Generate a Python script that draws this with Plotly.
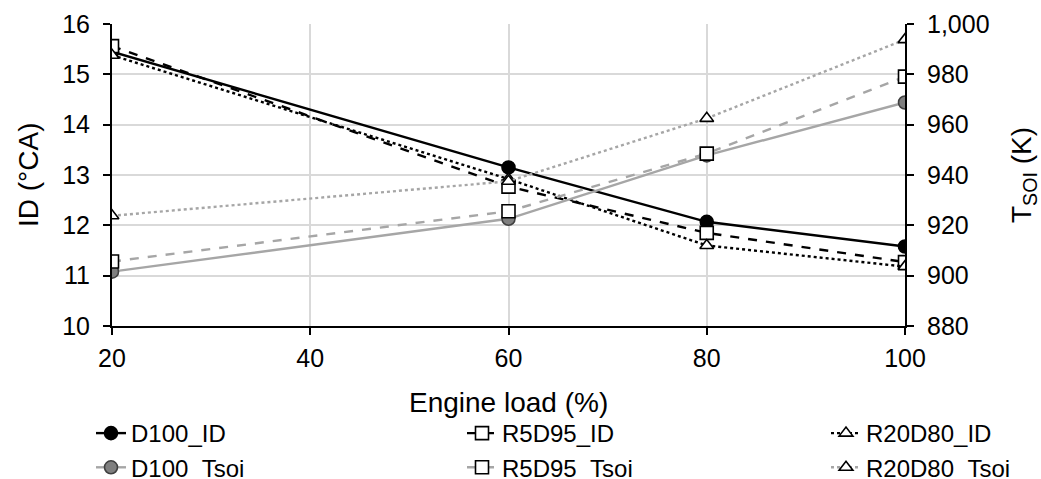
import plotly.graph_objects as go

load = [20, 60, 80, 100]
load_ticks = [20, 40, 60, 80, 100]

d100_id = [15.45, 13.15, 12.07, 11.58]
r5d95_id = [15.56, 12.77, 11.85, 11.27]
r20d80_id = [15.38, 12.92, 11.60, 11.18]

d100_tsoi = [901.6, 922.6, 947.8, 968.8]
r5d95_tsoi = [905.6, 925.6, 948.5, 979.1]
r20d80_tsoi = [923.8, 937.5, 962.5, 993.8]

BLACK = "#000000"
GRAY = "#a6a6a6"
FONT = "Liberation Sans, Arial, sans-serif"

fig = go.Figure()

def add(name, y, color, dash, symbol, mfill, mline, msize, axis, legend):
    fig.add_trace(go.Scatter(
        x=load, y=y, name=name, mode="lines+markers", yaxis=axis,
        legend=legend,
        line=dict(color=color, width=2.4, dash=dash),
        marker=dict(symbol=symbol, size=msize, color=mfill,
                    line=dict(color=mline, width=1.6)),
    ))

add("D100_ID", d100_id, BLACK, "solid", "circle", BLACK, BLACK, 13, "y", "legend")
add("D100_Tsoi", d100_tsoi, GRAY, "solid", "circle", "#7f7f7f", "#404040", 13, "y2", "legend")
add("R5D95_ID", r5d95_id, BLACK, "dash", "square", "white", BLACK, 13, "y", "legend2")
add("R5D95_Tsoi", r5d95_tsoi, GRAY, "dash", "square", "white", BLACK, 13, "y2", "legend2")
add("R20D80_ID", r20d80_id, BLACK, "dot", "triangle-up", "white", BLACK, 12, "y", "legend3")
add("R20D80_Tsoi", r20d80_tsoi, GRAY, "dot", "triangle-up", "white", BLACK, 12, "y2", "legend3")

axis_common = dict(
    showline=True, linecolor="black", linewidth=2,
    ticks="outside", ticklen=7, tickcolor="black", tickwidth=2,
    zeroline=False, tickfont=dict(size=25), automargin=False,
)

leg_common = dict(
    orientation="v", xanchor="left", yanchor="top",
    xref="paper", yref="container",
    font=dict(size=24), tracegroupgap=0, itemwidth=30,
    bgcolor="rgba(0,0,0,0)",
)

L, R, T, B = 112, 136, 24, 153
W = 1041 - L - R
H = 479 - T - B
LEG_Y = 1 - 411 / 479

def px_x(px):
    return (px - L) / W

def px_y(py):
    return (479 - B - py) / H

fig.update_layout(
    width=1041, height=479,
    margin=dict(l=L, r=R, t=T, b=B),
    paper_bgcolor="white", plot_bgcolor="white",
    font=dict(family=FONT, size=25, color="black"),
    xaxis=dict(
        range=[20, 100], tickvals=load_ticks,
        showgrid=True, gridcolor="#d9d9d9", gridwidth=2,
        ticklabelstandoff=2,
        **axis_common,
    ),
    yaxis=dict(
        range=[10, 16], dtick=1,
        showgrid=True, gridcolor="#d9d9d9", gridwidth=2,
        ticklabelstandoff=8,
        **axis_common,
    ),
    yaxis2=dict(
        range=[880, 1000], dtick=20, overlaying="y", side="right",
        tickformat=",d", showgrid=False,
        ticklabelstandoff=8,
        **axis_common,
    ),
    legend=dict(x=px_x(91), y=LEG_Y, **leg_common),
    legend2=dict(x=px_x(462), y=LEG_Y, **leg_common),
    legend3=dict(x=px_x(826), y=LEG_Y, **leg_common),
    showlegend=True,
    annotations=[
        dict(text="Engine load (%)", xref="paper", yref="paper",
             x=0.5, y=px_y(402), xanchor="center", yanchor="middle",
             showarrow=False, font=dict(size=28)),
        dict(text="ID (°CA)", xref="paper", yref="paper",
             x=px_x(28), y=0.5, xanchor="center", yanchor="middle",
             textangle=-90, showarrow=False, font=dict(size=28)),
        dict(text="T<sub>SOI</sub> (K)", xref="paper", yref="paper",
             x=px_x(1023), y=0.5, xanchor="center", yanchor="middle",
             textangle=-90, showarrow=False, font=dict(size=28)),
    ],
)

fig.write_html(
    "out.html",
    config={"displayModeBar": False},
    post_script="document.body.style.margin='0';document.body.style.overflow='hidden';",
)
